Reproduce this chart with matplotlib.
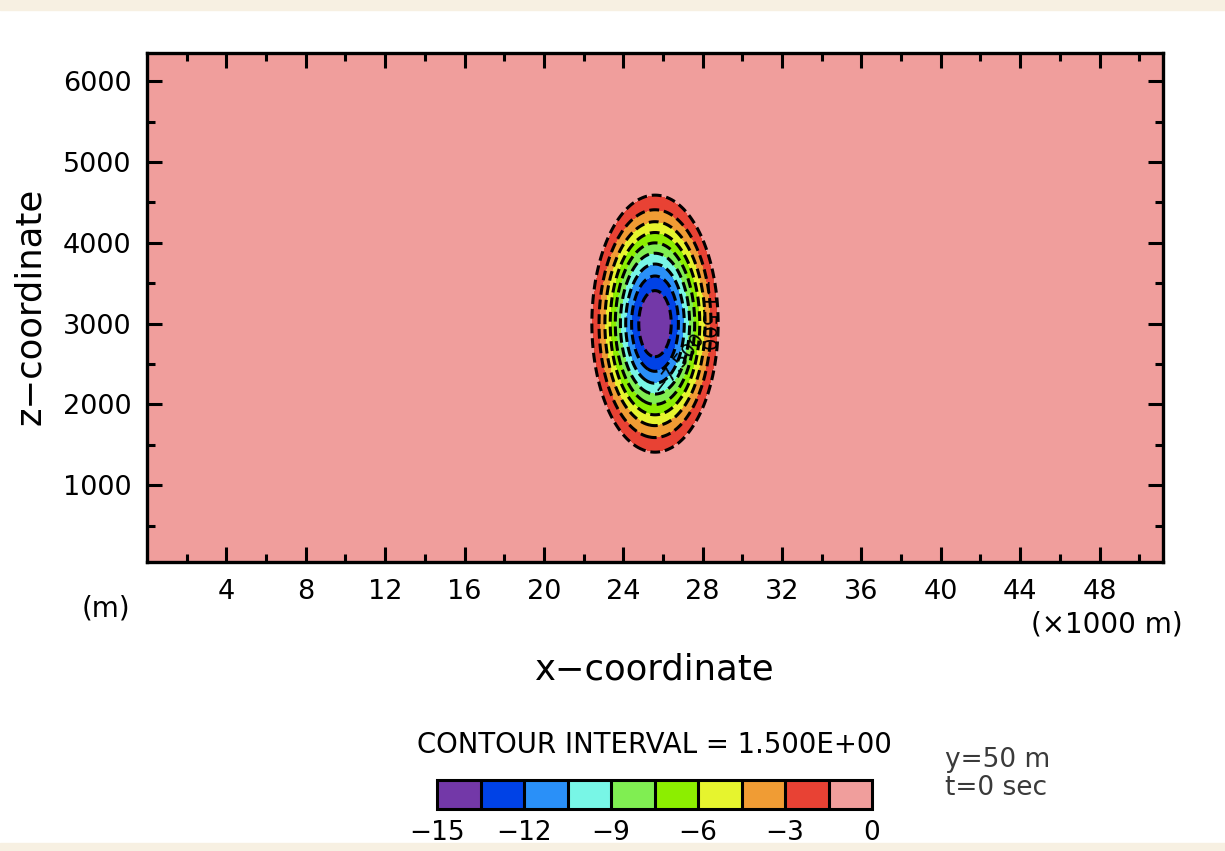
import numpy as np
import matplotlib
matplotlib.use("Agg")
import matplotlib.pyplot as plt
from matplotlib.patches import Rectangle

# domain (x in km, z in m)
x_range = [0.0, 51.2]
z_range = [50.0, 6350.0]

# cold bubble: centre, radii, amplitude
x_centre = 25.6      # km
z_centre = 3000.0    # m
x_radius = 4.0       # km
z_radius = 2000.0    # m
amplitude = -15.0

levels = [-15, -13.5, -12, -10.5, -9, -7.5, -6, -4.5, -3, -1.5, 0]
line_levels = [-13.5, -12, -10.5, -9, -7.5, -6, -4.5, -3, -1.5]
fill_colors = ["#7338a8", "#0042e6", "#2a90f8", "#78f6e6", "#80ee52",
               "#8cee00", "#e6f42e", "#f09c34", "#e84234", "#f09e9c"]
cbar_ticks = [-15, -12, -9, -6, -3, 0]
x_ticks = [4, 8, 12, 16, 20, 24, 28, 32, 36, 40, 44, 48]
z_ticks = [1000, 2000, 3000, 4000, 5000, 6000]


def bubble(x, z):
    L = np.sqrt(((x - x_centre) / x_radius) ** 2 + ((z - z_centre) / z_radius) ** 2)
    th = amplitude * (np.cos(np.pi * L) + 1.0) / 2.0
    th[L > 1.0] = 0.0
    return th


x = np.arange(x_range[0] + 0.05, x_range[1], 0.1)
z = np.arange(z_range[0], z_range[1] + 1, 50.0)
X, Z = np.meshgrid(x, z)
theta = bubble(X, Z)

fig = plt.figure(figsize=(12.25, 8.51), dpi=100)
fig.patch.set_facecolor("white")
# faint paper strips top and bottom
fig.patches.append(Rectangle((0, 1 - 10 / 851.), 1, 10 / 851., transform=fig.transFigure,
                             color="#f7f0e2", zorder=0))
fig.patches.append(Rectangle((0, 0), 1, 8 / 851., transform=fig.transFigure,
                             color="#f7f0e2", zorder=0))

ax = fig.add_axes([147 / 1225., 1 - 562 / 851., (1163 - 147) / 1225., (562 - 53) / 851.])
cf = ax.contourf(X, Z, theta, levels=levels, colors=fill_colors)
ax.contour(X, Z, theta, levels=line_levels, colors="k", linewidths=2.2,
           linestyles=[(0, (3.2, 1.6))])

# contour labels
ax.text(28.15, 3080, "\u22121.500", rotation=270, fontsize=14, ha="center", va="center")
ax.text(26.8, 2520, "\u22127.500", rotation=52, fontsize=14, ha="center", va="center")

ax.set_xlim(x_range)
ax.set_ylim(z_range)
ax.set_xticks(x_ticks)
ax.set_xticks(np.arange(2, 51, 2), minor=True)
ax.set_yticks(z_ticks)
ax.set_yticks(np.arange(500, 6350, 500), minor=True)
ax.tick_params(which="both", direction="in", top=True, right=True, width=2.2,
               labelsize=19.5, colors="k")
ax.tick_params(which="major", length=11)
ax.tick_params(which="minor", length=6)
ax.tick_params(axis="x", pad=12)
ax.tick_params(axis="y", pad=11)
for s in ax.spines.values():
    s.set_linewidth(2.4)
    s.set_zorder(5)

fig.text(655 / 1225., 1 - 670 / 851., "x\u2212coordinate", ha="center", va="center", fontsize=25.5)
fig.text(30 / 1225., 1 - 306 / 851., "z\u2212coordinate", ha="center", va="center",
         rotation=90, fontsize=25.5)
fig.text(106 / 1225., 1 - 609 / 851., "(m)", ha="center", va="center", fontsize=20)
fig.text(1183 / 1225., 1 - 625 / 851., "(\u00d71000 m)", ha="right", va="center", fontsize=20)
fig.text(654 / 1225., 1 - 745 / 851., "CONTOUR INTERVAL = 1.500E+00", ha="center",
         va="center", fontsize=19.8)
fig.text(945 / 1225., 1 - 760 / 851., "y=50 m", ha="left", va="center", fontsize=19, color="#3a3a3a")
fig.text(945 / 1225., 1 - 788 / 851., "t=0 sec", ha="left", va="center", fontsize=19, color="#3a3a3a")

# colour bar
cax = fig.add_axes([437 / 1225., 1 - 809 / 851., (872 - 437) / 1225., 29 / 851.])
cb = fig.colorbar(cf, cax=cax, orientation="horizontal", ticks=cbar_ticks, drawedges=True)
cb.outline.set_linewidth(2.2)
cb.dividers.set_color("k")
cb.dividers.set_linewidth(2.2)
cb.ax.tick_params(length=0, labelsize=19, pad=8)
cb.ax.set_xticklabels([str(t).replace("-", "\u2212") for t in cbar_ticks])

plt.savefig("out.png", dpi=100)
